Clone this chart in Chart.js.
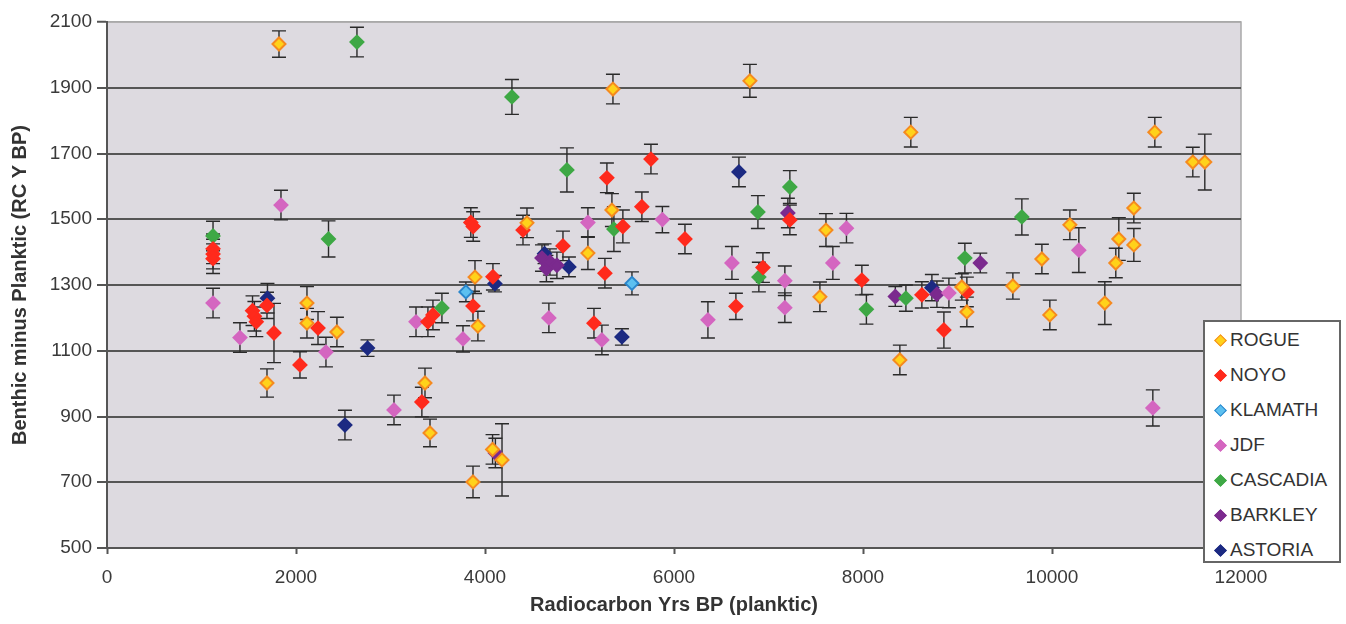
<!DOCTYPE html>
<html>
<head>
<meta charset="utf-8">
<script src="https://cdn.jsdelivr.net/npm/chart.js@4"></script>
<style>
  body { margin: 0; background: #fff; }
  #wrap { position: relative; width: 1346px; height: 624px; }
  #legend {
    position: absolute; left: 1203px; top: 320px; width: 134px; height: 239px;
    background: #fff; border: 2px solid #666; box-sizing: content-box;
    font: 19px "Liberation Sans", Arial, sans-serif; color: #333;
  }
  #legend div { position: absolute; left: 0; height: 24px; line-height: 24px; white-space: nowrap; }
  #legend i {
    position: absolute; left: 11px; top: 8px; width: 7px; height: 7px; transform: rotate(45deg);
  }
  #legend span { position: absolute; left: 25px; }
</style>
</head>
<body>
<div id="wrap">
  <canvas id="chart"></canvas>
  <div id="legend"></div>
</div>
<script>
// Benthic minus planktic age offsets, per core site: x, y and error (+/-)
const rogueX = [1820, 5354, 6803, 8506, 11088, 11490, 11617, 5343, 4444, 7608, 10189, 10866, 10707, 10866, 10675, 9893, 5089, 3894, 9586, 9046, 7544, 10559, 2116, 2116, 2433, 3925, 9099, 9977, 8390, 1693, 3365, 3418, 3873, 4180, 4080];
const rogueY = [2033, 1896, 1921, 1765, 1765, 1674, 1674, 1528, 1489, 1467, 1483, 1534, 1440, 1422, 1367, 1379, 1397, 1324, 1297, 1294, 1264, 1245, 1245, 1184, 1157, 1175, 1218, 1209, 1072, 1002, 1002, 850, 701, 768, 800];
const rogueErr = [40, 45, 50, 45, 45, 45, 85, 50, 45, 50, 45, 45, 65, 50, 45, 45, 50, 50, 40, 40, 45, 65, 50, 45, 45, 45, 45, 45, 45, 43, 45, 42, 48, 110, 45];

const noyoX = [1122, 1122, 1122, 1540, 1560, 1580, 1693, 1767, 2042, 2233, 3332, 3396, 3449, 3873, 3850, 3875, 4084, 4402, 4825, 5153, 5269, 5290, 5459, 5660, 5756, 6116, 6655, 6941, 7226, 7988, 8623, 8856, 9099];
const noyoY = [1410, 1394, 1380, 1222, 1205, 1188, 1238, 1154, 1057, 1169, 944, 1188, 1209, 1236, 1490, 1478, 1325, 1467, 1419, 1184, 1336, 1626, 1478, 1538, 1683, 1440, 1235, 1353, 1498, 1315, 1270, 1163, 1279];
const noyoErr = [45, 45, 45, 45, 45, 45, 40, 90, 40, 50, 45, 45, 45, 45, 45, 45, 40, 45, 45, 45, 45, 45, 50, 45, 45, 45, 40, 45, 45, 45, 40, 55, 45];

const klamathX = [3798, 5555];
const klamathY = [1279, 1305];
const klamathErr = [30, 35];

const jdfX = [1122, 1841, 1407, 2317, 3037, 3270, 3767, 4676, 5089, 5237, 5877, 6359, 6613, 7173, 7173, 7681, 7825, 8909, 10284, 11067];
const jdfY = [1245, 1543, 1140, 1096, 920, 1188, 1136, 1200, 1490, 1133, 1499, 1194, 1367, 1313, 1231, 1367, 1473, 1276, 1406, 926];
const jdfErr = [45, 45, 45, 45, 45, 45, 40, 45, 45, 45, 40, 55, 50, 45, 45, 50, 45, 45, 68, 55];

const cascadiaX = [1122, 2645, 2344, 3544, 4285, 4867, 5364, 6888, 6898, 7226, 8036, 8454, 9078, 9681];
const cascadiaY = [1449, 2039, 1440, 1230, 1872, 1650, 1470, 1522, 1324, 1598, 1226, 1260, 1382, 1507];
const cascadiaErr = [45, 45, 55, 45, 53, 67, 68, 50, 45, 50, 45, 40, 45, 55];

const barkleyX = [4110, 4603, 4650, 4687, 4761, 7205, 8342, 8782, 9241];
const barkleyY = [789, 1382, 1350, 1370, 1360, 1519, 1265, 1272, 1367];
const barkleyErr = [45, 40, 40, 40, 40, 45, 30, 40, 30];

const astoriaX = [1698, 2518, 2757, 4105, 4630, 4888, 5449, 6687, 8729];
const astoriaY = [1260, 874, 1108, 1304, 1395, 1355, 1142, 1644, 1292];
const astoriaErr = [45, 45, 25, 25, 30, 30, 25, 45, 40];

const xTicks = [0, 2000, 4000, 6000, 8000, 10000, 12000];
const yTicks = [500, 700, 900, 1100, 1300, 1500, 1700, 1900, 2100];

const SERIES = [
  { label: 'ROGUE', x: rogueX, y: rogueY, err: rogueErr, fill: '#ffd21a', stroke: '#f58a1f' },
  { label: 'NOYO', x: noyoX, y: noyoY, err: noyoErr, fill: '#ff2a1c', stroke: '#ff2a1c' },
  { label: 'KLAMATH', x: klamathX, y: klamathY, err: klamathErr, fill: '#5cc0f0', stroke: '#2a86cc' },
  { label: 'JDF', x: jdfX, y: jdfY, err: jdfErr, fill: '#d466c0', stroke: '#d466c0' },
  { label: 'CASCADIA', x: cascadiaX, y: cascadiaY, err: cascadiaErr, fill: '#3ea845', stroke: '#3ea845' },
  { label: 'BARKLEY', x: barkleyX, y: barkleyY, err: barkleyErr, fill: '#7b2a8e', stroke: '#7b2a8e' },
  { label: 'ASTORIA', x: astoriaX, y: astoriaY, err: astoriaErr, fill: '#1c2a82', stroke: '#1c2a82' }
];

const FONT = '"Liberation Sans", Arial, sans-serif';

// grey plot area plus its light top/right frame
const plotBackground = {
  id: 'plotBackground',
  beforeDraw(chart) {
    const { ctx, chartArea: a } = chart;
    ctx.save();
    ctx.fillStyle = '#dddae0';
    ctx.fillRect(a.left, a.top, a.right - a.left, a.bottom - a.top);
    ctx.strokeStyle = '#a9a9a9';
    ctx.lineWidth = 1.5;
    ctx.beginPath();
    ctx.moveTo(a.left, a.top);
    ctx.lineTo(a.right, a.top);
    ctx.lineTo(a.right, a.bottom);
    ctx.stroke();
    ctx.restore();
  }
};

// vertical error bars with caps, drawn under the markers
const errorBars = {
  id: 'errorBars',
  beforeDatasetsDraw(chart) {
    const { ctx, scales: { x, y } } = chart;
    ctx.save();
    ctx.strokeStyle = '#2a2a2a';
    ctx.lineWidth = 1.4;
    chart.data.datasets.forEach((ds) => {
      ds.data.forEach((p, i) => {
        const e = ds.errors[i];
        const px = x.getPixelForValue(p.x);
        const top = y.getPixelForValue(p.y + e);
        const bot = y.getPixelForValue(p.y - e);
        ctx.beginPath();
        ctx.moveTo(px, top);
        ctx.lineTo(px, bot);
        ctx.moveTo(px - 7, top);
        ctx.lineTo(px + 7, top);
        ctx.moveTo(px - 7, bot);
        ctx.lineTo(px + 7, bot);
        ctx.stroke();
      });
    });
    ctx.restore();
  }
};

new Chart(document.getElementById('chart'), {
  type: 'scatter',
  data: {
    datasets: SERIES.map((s) => ({
      label: s.label,
      data: s.x.map((v, i) => ({ x: v, y: s.y[i] })),
      errors: s.err,
      pointStyle: 'rectRot',
      pointRadius: 6.5,
      pointBorderWidth: 2,
      backgroundColor: s.fill,
      borderColor: s.stroke
    }))
  },
  options: {
    responsive: true,
    maintainAspectRatio: false,
    animation: false,
    layout: { padding: { top: 22, right: 105, left: 0, bottom: 0 } },
    plugins: {
      legend: { display: false },
      tooltip: { enabled: false }
    },
    scales: {
      x: {
        type: 'linear',
        min: 0,
        max: 12000,
        afterFit: (s) => { s.height = 76; },
        afterBuildTicks: (s) => { s.ticks = xTicks.map((v) => ({ value: v })); },
        grid: { drawOnChartArea: false, drawTicks: true, tickLength: 6, tickColor: '#555', tickWidth: 2 },
        border: { color: '#555', width: 2 },
        ticks: {
          color: '#3a3a3a',
          padding: 12,
          maxRotation: 0,
          font: { family: FONT, size: 19 },
          callback: (v) => String(v)
        },
        title: {
          display: true,
          text: 'Radiocarbon Yrs BP (planktic)',
          color: '#333',
          padding: { top: 0, bottom: 7 },
          font: { family: FONT, size: 20, weight: 'bold' }
        }
      },
      y: {
        type: 'linear',
        min: 500,
        max: 2100,
        afterFit: (s) => { s.width = 107; },
        afterBuildTicks: (s) => { s.ticks = yTicks.map((v) => ({ value: v })); },
        grid: {
          color: (c) => (c.tick && c.tick.value === 2100 ? '#a9a9a9' : '#555'),
          lineWidth: (c) => (c.tick && c.tick.value === 2100 ? 1.5 : 2),
          tickColor: '#555',
          tickLength: 10,
          tickWidth: 2
        },
        border: { color: '#555', width: 2 },
        ticks: {
          color: '#3a3a3a',
          padding: 5,
          font: { family: FONT, size: 19 },
          callback: (v) => String(v)
        },
        title: {
          display: true,
          text: 'Benthic minus Planktic (RC Y BP)',
          color: '#333',
          padding: { top: 8, bottom: 0 },
          font: { family: FONT, size: 20, weight: 'bold' }
        }
      }
    }
  },
  plugins: [plotBackground, errorBars]
});

// legend box overlapping the lower-right corner, as in the original
const legendEl = document.getElementById('legend');
SERIES.forEach((s, i) => {
  const row = document.createElement('div');
  row.style.top = (6 + i * 35) + 'px';
  row.innerHTML = `<i style="background:${s.fill};border:1px solid ${s.stroke}"></i><span>${s.label}</span>`;
  legendEl.appendChild(row);
});
</script>
</body>
</html>
